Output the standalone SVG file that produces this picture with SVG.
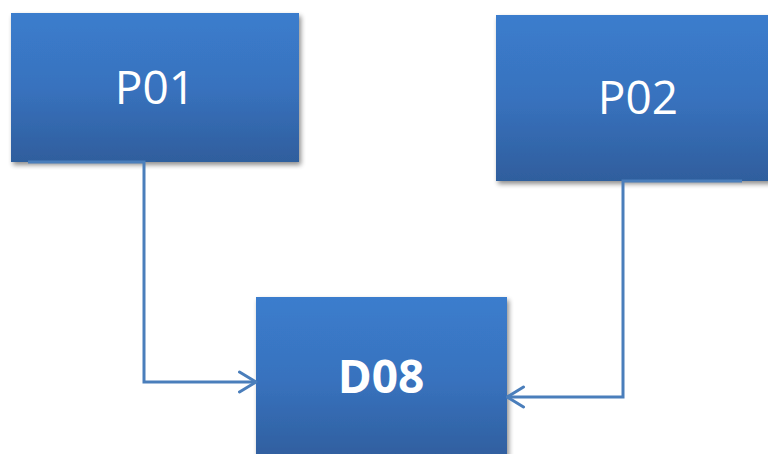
<svg xmlns="http://www.w3.org/2000/svg" width="768" height="454" viewBox="0 0 768 454">
<defs>
<linearGradient id="g" x1="0" y1="0" x2="0" y2="1">
<stop offset="0" stop-color="#3B7DCD"/>
<stop offset="0.5" stop-color="#3872BE"/>
<stop offset="1" stop-color="#2F5E9D"/>
</linearGradient>
<filter id="sh" x="-10%" y="-10%" width="125%" height="125%">
<feGaussianBlur in="SourceAlpha" stdDeviation="2.5"/>
<feOffset dx="2" dy="3" result="b"/>
<feComponentTransfer><feFuncA type="linear" slope="0.45"/></feComponentTransfer>
<feMerge><feMergeNode/><feMergeNode in="SourceGraphic"/></feMerge>
</filter>
<marker id="ar" viewBox="0 0 20 24" refX="18.5" refY="12" markerWidth="20" markerHeight="24" markerUnits="userSpaceOnUse" orient="auto">
<path d="M2,2 L18.5,12 L2,22" fill="none" stroke="#4A7EBB" stroke-width="3" stroke-linecap="round" stroke-linejoin="round"/>
</marker>
</defs>
<style>
.box{fill:url(#g);filter:url(#sh)}
.lbl{fill:#fff;font-family:"Open Sans","Liberation Sans",sans-serif;font-size:46px;text-anchor:middle}
.b{font-weight:bold}
.c{fill:none;stroke:#4A7EBB;stroke-width:3}
</style>
<g id="P01">
<rect class="box" x="11" y="13" width="288" height="149"/>
<text class="lbl" x="155" y="104">P01</text>
</g>
<g id="P02">
<rect class="box" x="496" y="15" width="275" height="166"/>
<text class="lbl" x="638" y="114">P02</text>
</g>
<g id="D08">
<rect class="box" x="256" y="297" width="251" height="165"/>
<text class="lbl b" x="381" y="393">D08</text>
</g>
<g id="connectors">
<path class="c" d="M28,162 L144,162 L144,382 L256,382" marker-end="url(#ar)"/>
<path class="c" d="M742,181 L623,181 L623,397 L507,397" marker-end="url(#ar)"/>
</g>
</svg>
